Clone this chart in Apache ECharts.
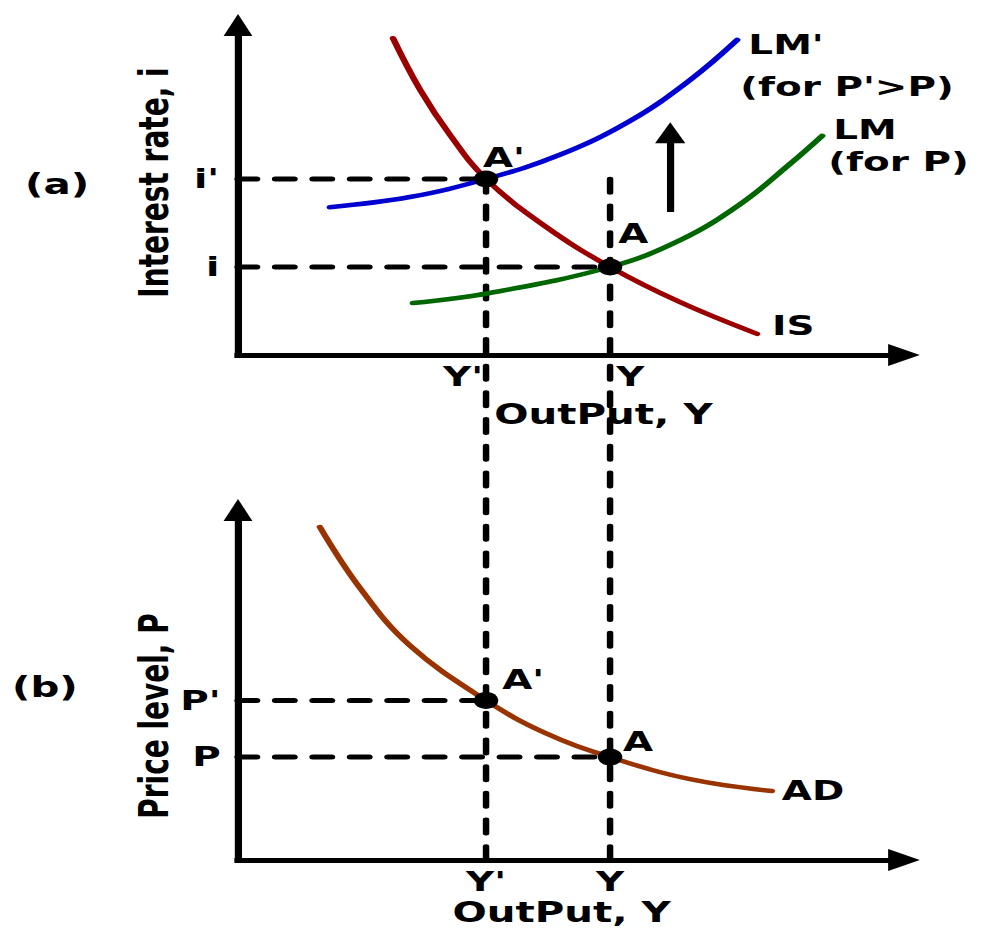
<!DOCTYPE html>
<html><head><meta charset="utf-8">
<script src="https://cdn.jsdelivr.net/npm/echarts@6/dist/echarts.min.js"></script>
<style>
html,body{margin:0;padding:0;background:#fff;overflow:hidden;}
#wrap{width:981px;height:936px;overflow:hidden;}
#chart{width:681px;height:936px;transform:scaleX(1.440529);transform-origin:0 0;}
</style></head><body><div id="wrap"><div id="chart"></div></div>
<script>
// ---------- data ----------
const outputTicks = [4, 6];                 // Y', Y
const outputTickLabels = ["Y'", "Y"];
const interestTicks = [2, 4];               // i, i'
const interestTickLabels = ["i", "i'"];
const priceTicks = [2, 3.1];                // P, P'
const priceTickLabels = ["P", "P'"];

const isCurve = [[2.50,7.20],[2.94,6.02],[3.42,5.00],[4,4],[4.95,2.93],[6,2],[7.13,1.20],[8.37,0.48]];
const lmPrimeCurve = [[1.48,3.36],[2.77,3.59],[4,4],[5.19,4.55],[6.32,5.32],[7.29,6.25],[8.05,7.16]];
const lmCurve = [[2.82,1.18],[4.06,1.41],[6,2],[7.13,2.61],[8.10,3.43],[8.90,4.34],[9.42,4.98]];
const adCurve = [[1.32,6.47],[1.97,5.28],[2.77,4.17],[4,3.1],[4.95,2.47],[6,2],[7.29,1.57],[8.61,1.34]];

const topPoints = [[4,4],[6,2]];            // A', A
const bottomPoints = [[4,3.1],[6,2]];       // A', A
const shiftArrow = [[6.97,3.25],[6.97,5.05]];

const topLabelNames = ["LM'", "(for P'>P)", "LM", "(for P)", "IS", "A'", "A"];
const topLabelPos = [[8.23,7.05],[8.10,6.09],[9.60,5.11],[9.52,4.39],[8.61,0.66],[3.95,4.48],[6.13,2.75]];
const bottomLabelNames = ["A'", "A", "AD"];
const bottomLabelPos = [[4.26,3.50],[6.21,2.29],[8.77,1.34]];

// ---------- layout ----------
const K = 981 / 681;
const FONT = 'DejaVu Sans';
const LEFT = 238 / K, RIGHT = 681 - 904 / K;
const TOP_TOP = 25, TOP_AXIS = 355, BOT_TOP = 510, BOT_AXIS = 860, H = 936;
const XMAX = 10.74, YMAX_TOP = 7.5, YMAX_BOT = 6.8;
const topUnit = (TOP_AXIS - TOP_TOP) / YMAX_TOP;
const ovMin = YMAX_TOP - (BOT_AXIS - TOP_TOP) / topUnit;

const txt = (size) => ({fontFamily: FONT, fontWeight: 'bold', fontSize: size, color: '#000', opacity: 1});
const axisLine = (sz) => ({show: true, symbol: ['none', 'triangle'], symbolSize: sz,
  lineStyle: {color: '#000', width: 5, cap: 'square'}});

function dashed(gi, pts, w, dash) {
  return {type: 'line', xAxisIndex: gi, yAxisIndex: gi, data: pts, symbol: 'none', silent: true, z: 1,
    lineStyle: {color: '#000', width: w, type: dash, cap: 'round', opacity: 1}, animation: false};
}
function curve(gi, pts, color) {
  return {type: 'line', xAxisIndex: gi, yAxisIndex: gi, data: pts, symbol: 'none', smooth: 0.4,
    silent: true, z: 3, lineStyle: {color: color, width: 4.5, cap: 'round', opacity: 1}, animation: false};
}
function labels(gi, names, pos) {
  return {type: 'scatter', xAxisIndex: gi, yAxisIndex: gi, symbolSize: 0, silent: true, z: 6,
    itemStyle: {opacity: 1},
    data: names.map((n, i) => ({name: n, value: pos[i]})),
    label: Object.assign({show: true, position: 'right', distance: 0, formatter: '{b}'}, txt(27)), animation: false};
}

const series = [
  dashed(0, [[0, interestTicks[1]], [outputTicks[0], interestTicks[1]]], 5, [13, 13]),
  dashed(0, [[0, interestTicks[0]], [outputTicks[1], interestTicks[0]]], 5, [13, 13]),
  dashed(1, [[0, priceTicks[1]], [outputTicks[0], priceTicks[1]]], 5, [13, 13]),
  dashed(1, [[0, priceTicks[0]], [outputTicks[1], priceTicks[0]]], 5, [13, 13]),
  dashed(2, [[outputTicks[0], interestTicks[1]], [outputTicks[0], ovMin]], 4.5, [13.5, 13.2]),
  dashed(2, [[outputTicks[1], interestTicks[1]], [outputTicks[1], ovMin]], 4.5, [13.5, 13.2]),
  curve(0, isCurve, '#9b0000'),
  curve(0, lmPrimeCurve, '#0000d0'),
  curve(0, lmCurve, '#006600'),
  curve(1, adCurve, '#993300'),
  {type: 'scatter', xAxisIndex: 0, yAxisIndex: 0, data: topPoints, symbol: 'circle', symbolSize: 17, z: 5, silent: true,
    itemStyle: {color: '#000', opacity: 1}, animation: false},
  {type: 'scatter', xAxisIndex: 1, yAxisIndex: 1, data: bottomPoints, symbol: 'circle', symbolSize: 17, z: 5, silent: true,
    itemStyle: {color: '#000', opacity: 1}, animation: false},
  {type: 'line', xAxisIndex: 0, yAxisIndex: 0, data: [], z: 4, silent: true, animation: false,
    markLine: {silent: true, animation: false, symbol: ['none', 'triangle'], symbolSize: 21,
      label: {show: false}, lineStyle: {color: '#000', width: 5, type: 'solid', opacity: 1},
      emphasis: {disabled: true},
      data: [[{coord: shiftArrow[0]}, {coord: shiftArrow[1]}]]}},
  labels(0, topLabelNames, topLabelPos),
  labels(1, bottomLabelNames, bottomLabelPos)
];

const option = {
  animation: false,
  backgroundColor: '#fff',
  title: [
    {text: '(a)', left: 25 / K, top: 170, padding: 0, textStyle: txt(28)},
    {text: '(b)', left: 12 / K, top: 673, padding: 0, textStyle: txt(28)}
  ],
  grid: [
    {left: LEFT, right: RIGHT, top: TOP_TOP, bottom: H - TOP_AXIS, outerBoundsMode: 'none'},
    {left: LEFT, right: RIGHT, top: BOT_TOP, bottom: H - BOT_AXIS, outerBoundsMode: 'none'},
    {left: LEFT, right: RIGHT, top: TOP_TOP, bottom: H - BOT_AXIS, outerBoundsMode: 'none'}
  ],
  xAxis: [
    {gridIndex: 0, type: 'value', min: 0, max: XMAX, axisLine: axisLine([22, 22]), axisTick: {show: false}, splitLine: {show: false},
      axisLabel: {customValues: outputTicks, margin: 8,
        formatter: v => (outputTicks.indexOf(v) === 0 ? '{l|' : '{r|') + outputTickLabels[outputTicks.indexOf(v)] + '}',
        rich: {l: Object.assign({padding: [0, 32, 0, 0]}, txt(27)), r: Object.assign({padding: [0, 0, 0, 28]}, txt(27))}},
      name: 'OutPut, Y', nameLocation: 'middle', nameGap: 45, nameMoveOverlap: false,
      nameTextStyle: Object.assign({padding: [0, 0, 0, 45]}, txt(28))},
    {gridIndex: 1, type: 'value', min: 0, max: XMAX, axisLine: axisLine([22, 22]), axisTick: {show: false}, splitLine: {show: false},
      axisLabel: Object.assign({customValues: outputTicks, margin: 8,
        formatter: v => outputTickLabels[outputTicks.indexOf(v)]}, txt(27)),
      name: 'OutPut, Y', nameLocation: 'middle', nameGap: 38, nameMoveOverlap: false,
      nameTextStyle: Object.assign({padding: [0, 13, 0, 0]}, txt(28))},
    {gridIndex: 2, type: 'value', min: 0, max: XMAX, show: false}
  ],
  yAxis: [
    {gridIndex: 0, type: 'value', min: 0, max: YMAX_TOP, axisLine: axisLine([20, 22]), axisTick: {show: false}, splitLine: {show: false},
      axisLabel: Object.assign({customValues: interestTicks, margin: 13,
        formatter: v => interestTickLabels[interestTicks.indexOf(v)]}, txt(27)),
      name: 'Interest rate, i', nameLocation: 'middle', nameGap: 44, nameMoveOverlap: false,
      nameTextStyle: Object.assign({padding: [0, 0, 0, 15]}, txt(28))},
    {gridIndex: 1, type: 'value', min: 0, max: YMAX_BOT, axisLine: axisLine([20, 22]), axisTick: {show: false}, splitLine: {show: false},
      axisLabel: Object.assign({customValues: priceTicks, margin: 12,
        formatter: v => priceTickLabels[priceTicks.indexOf(v)]}, txt(27)),
      name: 'Price level, P', nameLocation: 'middle', nameGap: 44, nameMoveOverlap: false,
      nameTextStyle: Object.assign({padding: [0, 62, 0, 0]}, txt(28))},
    {gridIndex: 2, type: 'value', min: ovMin, max: YMAX_TOP, show: false}
  ],
  series: series
};

const chart = echarts.init(document.getElementById('chart'), null, {renderer: 'svg'});
chart.setOption(option);
</script>
</body></html>
